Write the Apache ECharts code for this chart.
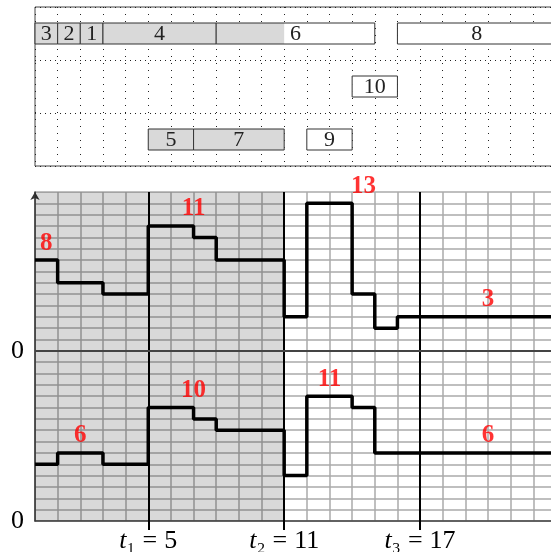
<!DOCTYPE html>
<html>
<head>
<meta charset="utf-8">
<script src="https://cdn.jsdelivr.net/npm/echarts@6/dist/echarts.min.js"></script>
<style>
  html, body { margin: 0; padding: 0; background: #fff; }
  #chart { width: 551px; height: 552px; }
</style>
</head>
<body>
<div id="chart"></div>
<script>
// schedule (top panel)
const jobNames = ['3', '2', '1', '4', '6', '8', '10', '5', '7', '9'];
const jobStart = [0, 1, 2, 3, 8, 16, 14, 5, 7, 12];
const jobEnd = [1, 2, 3, 8, 15, 23, 16, 7, 11, 14];
const jobRow = [0, 0, 0, 0, 0, 0, 1, 2, 2, 2];

// load profiles (bottom panel), value holds until next x
const stepX = [0, 1, 3, 5, 7, 8, 11, 12, 14, 15, 16, 23];
const upperLoad = [8, 6, 5, 11, 10, 8, 3, 13, 5, 2, 3, 3];
const lowerLoad = [5, 6, 5, 10, 9, 8, 4, 11, 10, 6, 6, 6];

// peak labels
const upperPeakX = [0.5, 7, 14.5, 20];
const upperPeakY = [8, 11, 13, 3];
const lowerPeakX = [2, 7, 13, 20];
const lowerPeakY = [6, 10, 11, 6];

const markTimes = [5, 11, 17];
const subDigits = ['₁', '₂', '₃'];
const shadeEnd = 11;
const xMax = 23;

const font = 'Liberation Serif';
const chart = echarts.init(document.getElementById('chart'));

const peakLabel = {
  show: true,
  position: 'inside',
  offset: [0, -17],
  formatter: p => p.value[1],
  color: '#f00',
  fontWeight: 'bold',
  fontSize: 25,
  fontFamily: font
};

chart.setOption({
  animation: false,
  textStyle: { fontFamily: font },
  grid: [
    {
      left: 35, top: 7, width: 521, height: 159, outerBoundsMode: 'none',
      show: true, borderColor: '#444', borderWidth: 1
    },
    { left: 35, top: 192, width: 521, height: 329, outerBoundsMode: 'none' }
  ],
  xAxis: [
    {
      gridIndex: 0, type: 'value', min: 0, max: xMax, interval: 1,
      axisLine: { show: false }, axisTick: { show: false }, axisLabel: { show: false },
      splitLine: { show: true, lineStyle: { color: '#222', width: 1, type: [1, 6] } }
    },
    {
      gridIndex: 1, type: 'value', position: 'bottom', min: 0, max: xMax, interval: 1,
      axisLine: { show: true, onZero: false, lineStyle: { color: '#444', width: 1.5 } },
      axisTick: { show: false },
      axisLabel: { show: false },
      splitLine: { show: true, lineStyle: { color: '#aaa', width: 1.5 } }
    },
    {
      gridIndex: 1, type: 'value', position: 'bottom', offset: 0, min: 0, max: xMax, interval: 1,
      axisLine: { show: false, onZero: false },
      axisTick: {
        show: true, customValues: markTimes, length: 9,
        lineStyle: { color: '#000', width: 2 }
      },
      axisLabel: {
        show: true, customValues: markTimes, margin: 7,
        formatter: v => '{i|t}{n|' + subDigits[markTimes.indexOf(v)] + '}{e|=}{n|' + v + '}',
        rich: {
          i: { fontSize: 26, fontStyle: 'italic', fontFamily: font, color: '#000' },
          n: { fontSize: 26, fontFamily: font, color: '#000' },
          e: { fontSize: 26, fontFamily: font, color: '#000', padding: [0, 7, 0, 7] }
        }
      },
      splitLine: { show: false }
    }
  ],
  yAxis: [
    {
      gridIndex: 0, type: 'value', min: 0, max: 3, interval: 1, inverse: true,
      axisLine: { show: false }, axisTick: { show: false }, axisLabel: { show: false },
      splitLine: { show: true, lineStyle: { color: '#222', width: 1, type: [1, 4] } }
    },
    {
      gridIndex: 1, type: 'value', position: 'left', min: 0, max: 29, interval: 1,
      axisLine: {
        show: true, onZero: false, symbol: ['none', 'arrow'], symbolSize: [7, 8],
        lineStyle: { color: '#333', width: 1.5 }
      },
      axisTick: { show: false },
      axisLabel: { customValues: [0], fontSize: 26, color: '#000', margin: 11 },
      splitLine: { show: true, lineStyle: { color: '#aaa', width: 1.5 } }
    },
    {
      gridIndex: 1, type: 'value', position: 'left', offset: 0, min: -15, max: 14, interval: 1,
      axisLine: { show: false, onZero: false }, axisTick: { show: false },
      axisLabel: { customValues: [0], fontSize: 26, color: '#000', margin: 11 },
      splitLine: { show: false }
    }
  ],
  series: [
    {
      type: 'custom',
      xAxisIndex: 0, yAxisIndex: 0,
      data: jobStart.map((s, i) => [s, jobEnd[i], jobRow[i]]),
      encode: { x: [0, 1], y: 2 },
      renderItem: (params, api) => {
        const s = api.value(0), e = api.value(1), r = api.value(2);
        const a = api.coord([s, r + 0.5]);
        const b = api.coord([e, r + 0.5]);
        const h = 21;
        const children = [{
          type: 'rect',
          shape: { x: a[0], y: a[1] - h / 2, width: b[0] - a[0], height: h },
          style: { fill: '#fff' }
        }];
        if (s < shadeEnd) {
          const g = api.coord([Math.min(e, shadeEnd), r + 0.5]);
          children.push({
            type: 'rect',
            shape: { x: a[0], y: a[1] - h / 2, width: g[0] - a[0], height: h },
            style: { fill: '#d9d9d9' }
          });
        }
        children.push({
          type: 'rect',
          shape: { x: a[0], y: a[1] - h / 2, width: b[0] - a[0], height: h },
          style: { fill: 'none', stroke: '#333', lineWidth: 1 }
        });
        children.push({
          type: 'text',
          style: {
            x: (a[0] + b[0]) / 2, y: a[1] + 1,
            text: jobNames[params.dataIndex],
            align: 'center', verticalAlign: 'middle',
            font: '22px "Liberation Serif"', fill: '#222'
          }
        });
        return { type: 'group', children: children };
      }
    },
    {
      type: 'line',
      xAxisIndex: 1, yAxisIndex: 1,
      step: 'end', symbol: 'none',
      data: stepX.map((x, i) => [x, lowerLoad[i]]),
      lineStyle: { color: '#000', width: 3.5 },
      markArea: {
        silent: true,
        itemStyle: { color: 'rgba(0,0,0,0.15)' },
        data: [[{ xAxis: 0 }, { xAxis: shadeEnd }]]
      },
      markLine: {
        silent: true, symbol: ['none', 'none'], animation: false,
        label: { show: false },
        lineStyle: { color: '#000', width: 2, type: 'solid' },
        data: markTimes.map(t => ({ xAxis: t }))
      }
    },
    {
      type: 'line',
      xAxisIndex: 1, yAxisIndex: 2,
      step: 'end', symbol: 'none',
      data: stepX.map((x, i) => [x, upperLoad[i]]),
      lineStyle: { color: '#000', width: 3.5 },
      markLine: {
        silent: true, symbol: ['none', 'none'], animation: false,
        label: { show: false },
        lineStyle: { color: '#444', width: 2, type: 'solid' },
        data: [{ yAxis: 0 }]
      }
    },
    {
      type: 'scatter',
      xAxisIndex: 1, yAxisIndex: 2,
      symbolSize: 0,
      data: upperPeakX.map((x, i) => [x, upperPeakY[i]]),
      label: peakLabel
    },
    {
      type: 'scatter',
      xAxisIndex: 1, yAxisIndex: 1,
      symbolSize: 0,
      data: lowerPeakX.map((x, i) => [x, lowerPeakY[i]]),
      label: peakLabel
    }
  ]
});
</script>
</body>
</html>
